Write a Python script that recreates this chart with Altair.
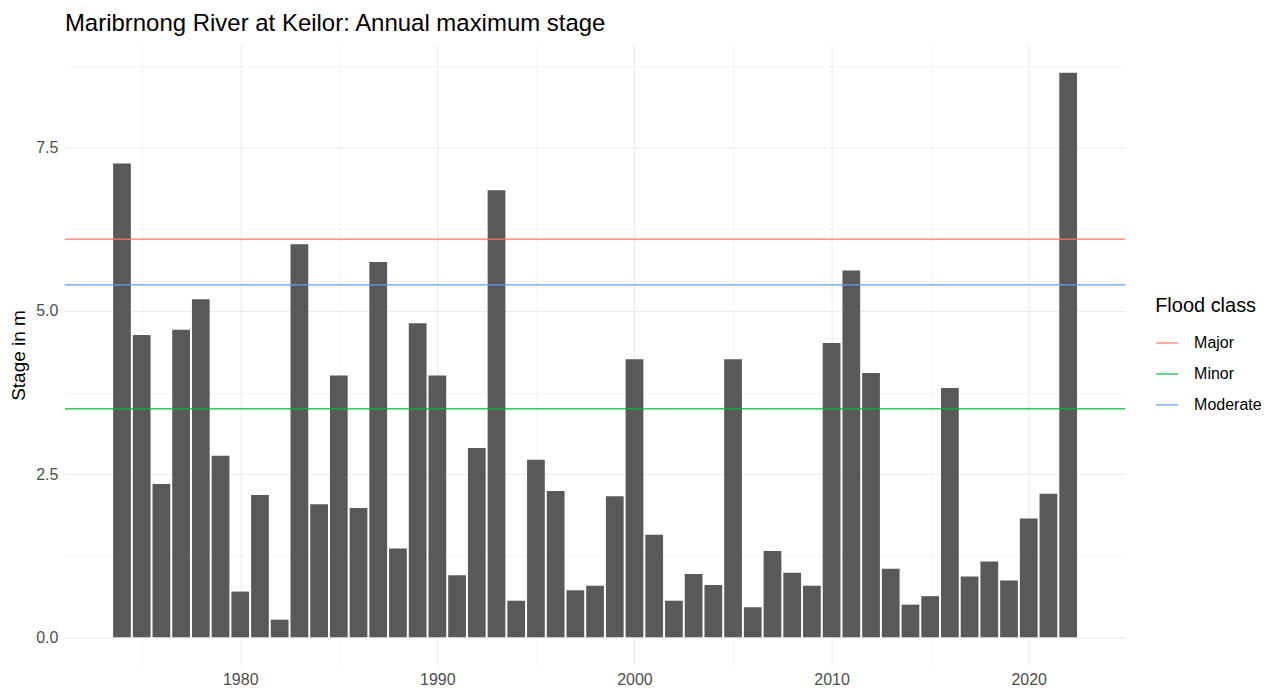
import altair as alt
import pandas as pd

years = list(range(1974, 2023))
stages = [7.26, 4.63, 2.35, 4.71, 5.18, 2.78, 0.70, 2.18, 0.27, 6.02,
          2.04, 4.01, 1.98, 5.75, 1.36, 4.81, 4.01, 0.95, 2.90, 6.85,
          0.56, 2.72, 2.24, 0.72, 0.79, 2.16, 4.26, 1.57, 0.56, 0.97,
          0.80, 4.26, 0.46, 1.32, 0.99, 0.79, 4.51, 5.62, 4.05, 1.05,
          0.50, 0.63, 3.82, 0.93, 1.16, 0.87, 1.82, 2.20, 8.65]

flood_classes = ["Major", "Minor", "Moderate"]
flood_levels = [6.1, 3.5, 5.4]
flood_colors = ["#F8766D", "#00BA38", "#619CFF"]

x_ticks = [1975, 1980, 1985, 1990, 1995, 2000, 2005, 2010, 2015, 2020]
y_ticks = [0, 1.25, 2.5, 3.75, 5, 6.25, 7.5, 8.75]

bars_df = pd.DataFrame({"year": years, "stage": stages})
lines_df = pd.DataFrame({"Flood class": flood_classes, "level": flood_levels})

FONT = "Liberation Sans"
x_scale = alt.Scale(domain=[1971.105, 2024.895], nice=False, zero=False)
y_scale = alt.Scale(domain=[-0.4325, 9.0825], nice=False, zero=False)

x_axis = alt.Axis(
    values=x_ticks, format="d", title=None, ticks=False, domain=False,
    labelExpr="datum.value % 10 === 0 ? datum.label : ''",
    labelFontSize=16, labelColor="#4D4D4D", labelFont=FONT, labelPadding=6,
    gridColor="#EBEBEB",
    gridWidth=alt.ConditionalAxisNumber(
        condition={"test": "datum.value % 10 === 0", "value": 1.1}, value=0.55),
)
y_axis = alt.Axis(
    values=y_ticks, format=".1f", title="Stage in m", ticks=False, domain=False,
    labelExpr="datum.value % 2.5 === 0 ? datum.label : ''",
    labelFontSize=16, labelColor="#4D4D4D", labelFont=FONT, labelPadding=7,
    titleFontSize=19, titleFont=FONT, titleColor="black", titleFontWeight="normal",
    gridColor="#EBEBEB",
    gridWidth=alt.ConditionalAxisNumber(
        condition={"test": "datum.value % 2.5 === 0", "value": 1.1}, value=0.55),
)

bars = alt.Chart(bars_df).transform_calculate(
    x0="datum.year - 0.45", x1="datum.year + 0.45"
).mark_bar(color="#595959").encode(
    x=alt.X("x0:Q", scale=x_scale, axis=x_axis),
    x2="x1:Q",
    y=alt.Y("stage:Q", scale=y_scale, axis=y_axis),
    y2=alt.datum(0),
)

rules = alt.Chart(lines_df).mark_rule(strokeWidth=1.2).encode(
    y=alt.Y("level:Q", scale=y_scale),
    color=alt.Color(
        "Flood class:N",
        scale=alt.Scale(domain=flood_classes, range=flood_colors),
        legend=alt.Legend(
            orient="none", legendX=1092, legendY=252,
            titleFontSize=20, titleFont=FONT, titleColor="black", titleFontWeight="normal",
            titlePadding=15,
            labelFontSize=16, labelFont=FONT, labelColor="black", labelOffset=15,
            symbolType="stroke", symbolSize=500, symbolStrokeWidth=1.2,
            rowPadding=11,
        ),
    ),
)

chart = alt.layer(bars, rules).properties(
    width=1062,
    height=622,
    title=alt.TitleParams(
        "Maribrnong River at Keilor: Annual maximum stage",
        anchor="start", frame="group", fontSize=24, font=FONT, color="black",
        fontWeight="normal", offset=9,
    ),
    autosize=alt.AutoSizeParams(type="none"),
    padding={"left": 57, "top": 36, "right": 140, "bottom": 30},
).configure_view(stroke=None).configure_axisY(
    titleX=-46, titleAngle=-90, titleBaseline="middle", titleAlign="center",
)

chart.save("out.html", embed_options={"renderer": "svg", "actions": False})
